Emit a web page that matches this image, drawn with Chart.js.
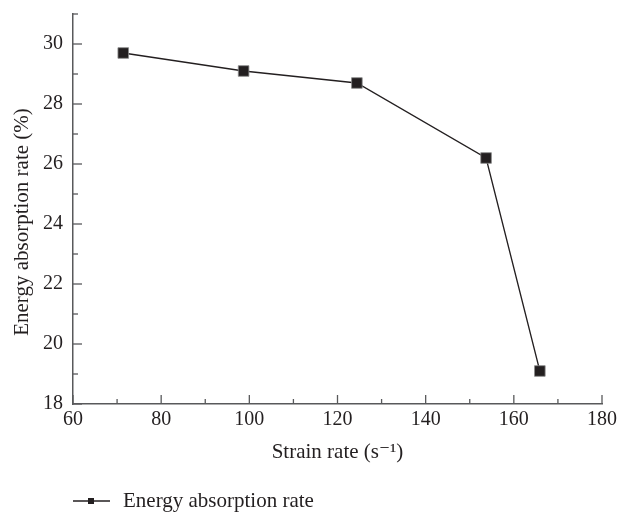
<!DOCTYPE html>
<html lang="en">
<head>
    <meta charset="UTF-8">
    <title>Energy absorption rate vs strain rate</title>
    <script src="https://cdn.jsdelivr.net/npm/chart.js"></script>
    <style>
        html, body { margin: 0; padding: 0; background: #fff; }
        .chart-box { width: 618px; height: 513px; }
    </style>
</head>
<body>
    <div class="chart-box">
        <canvas id="energyChart"></canvas>
    </div>
    <script>
        const strainRate = [71.4, 98.7, 124.4, 153.7, 165.9];
        const absorptionRate = [29.7, 29.1, 28.7, 26.2, 19.1];
        const seriesName = 'Energy absorption rate';
        const xTitle = 'Strain rate (s\u207B\u00B9)';
        const yTitle = 'Energy absorption rate (%)';

        const ink = '#231f20';
        const axisColor = '#58595b';
        const fontFamily = '"Liberation Serif", "DejaVu Serif", serif';

        // ticks point into the plot, long on labelled values
        const inwardTicks = {
            id: 'inwardTicks',
            afterDraw(chart) {
                const { ctx, chartArea, scales } = chart;
                ctx.save();
                ctx.strokeStyle = axisColor;
                ctx.lineWidth = 1.3;
                scales.x.ticks.forEach(t => {
                    const px = scales.x.getPixelForValue(t.value);
                    const len = t.value % 20 === 0 ? 9 : 5;
                    ctx.beginPath();
                    ctx.moveTo(px, chartArea.bottom);
                    ctx.lineTo(px, chartArea.bottom - len);
                    ctx.stroke();
                });
                scales.y.ticks.forEach(t => {
                    const py = scales.y.getPixelForValue(t.value);
                    const len = t.value % 2 === 0 ? 9 : 5;
                    ctx.beginPath();
                    ctx.moveTo(chartArea.left, py);
                    ctx.lineTo(chartArea.left + len, py);
                    ctx.stroke();
                });
                ctx.restore();
            }
        };

        // y title sits a little below the middle of the axis in the original
        const yAxisTitle = {
            id: 'yAxisTitle',
            afterDraw(chart) {
                const { ctx, chartArea } = chart;
                ctx.save();
                ctx.translate(22, (chartArea.top + chartArea.bottom) / 2 + 13);
                ctx.rotate(-Math.PI / 2);
                ctx.fillStyle = ink;
                ctx.font = '21px ' + fontFamily;
                ctx.textAlign = 'center';
                ctx.textBaseline = 'middle';
                ctx.fillText(yTitle, 0, 0);
                ctx.restore();
            }
        };

        // legend sample: line with a small square in the middle
        const bottomLegend = {
            id: 'bottomLegend',
            afterDraw(chart) {
                const { ctx, chartArea } = chart;
                const ds = chart.data.datasets[0];
                const x0 = chartArea.left;
                const y0 = 501;
                ctx.save();
                ctx.strokeStyle = ds.borderColor;
                ctx.lineWidth = 1.3;
                ctx.beginPath();
                ctx.moveTo(x0, y0);
                ctx.lineTo(x0 + 37, y0);
                ctx.stroke();
                ctx.fillStyle = ds.pointBackgroundColor;
                ctx.fillRect(x0 + 15, y0 - 3, 6, 6);
                ctx.fillStyle = ink;
                ctx.font = '21px ' + fontFamily;
                ctx.textBaseline = 'middle';
                ctx.fillText(ds.label, x0 + 50, y0);
                ctx.restore();
            }
        };

        new Chart(document.getElementById('energyChart'), {
            type: 'line',
            data: {
                datasets: [{
                    label: seriesName,
                    data: strainRate.map((x, i) => ({ x: x, y: absorptionRate[i] })),
                    borderColor: ink,
                    borderWidth: 1.3,
                    pointStyle: 'rect',
                    pointRadius: 7.5,
                    pointHoverRadius: 7.5,
                    pointBackgroundColor: ink,
                    pointBorderColor: '#8a8a8a',
                    pointBorderWidth: 0.8,
                    tension: 0
                }]
            },
            options: {
                responsive: true,
                maintainAspectRatio: false,
                animation: false,
                layout: { padding: { top: 14, right: 16, bottom: 48, left: 0 } },
                plugins: {
                    legend: { display: false },
                    tooltip: { enabled: false }
                },
                scales: {
                    x: {
                        type: 'linear',
                        min: 60,
                        max: 180,
                        grid: { display: false, drawTicks: false },
                        border: { display: true, color: axisColor, width: 1.5 },
                        ticks: {
                            stepSize: 10,
                            autoSkip: false,
                            maxRotation: 0,
                            padding: 4,
                            color: ink,
                            font: { family: fontFamily, size: 20 },
                            callback: v => (v % 20 === 0 ? v : '')
                        },
                        title: {
                            display: true,
                            text: xTitle,
                            color: ink,
                            font: { family: fontFamily, size: 21 },
                            padding: { top: 6, bottom: 0 }
                        },
                        afterFit: s => {
                            s.height = 61;
                            s.paddingLeft = 0;
                            s.paddingRight = 0;
                        }
                    },
                    y: {
                        min: 18,
                        max: 31,
                        grid: { display: false, drawTicks: false },
                        border: { display: true, color: axisColor, width: 1.5 },
                        ticks: {
                            stepSize: 1,
                            autoSkip: false,
                            padding: 10,
                            color: ink,
                            font: { family: fontFamily, size: 20 },
                            callback: v => (v % 2 === 0 ? v : '')
                        },
                        afterFit: s => {
                            s.width = 73;
                            s.paddingTop = 0;
                            s.paddingBottom = 0;
                        }
                    }
                }
            },
            plugins: [inwardTicks, yAxisTitle, bottomLegend]
        });
    </script>
</body>
</html>
